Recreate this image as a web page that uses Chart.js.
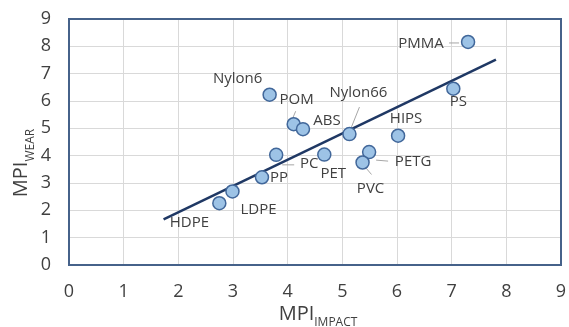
<!DOCTYPE html>
<html lang="en">
<head>
  <meta charset="UTF-8">
  <title>MPI wear vs impact</title>
  <style>
    body { margin: 0; background: #fff; }
    #wrap { width: 569px; height: 327px; }
  </style>
  <script src="https://cdn.jsdelivr.net/npm/chart.js"></script>
</head>
<body>
  <div id="wrap"><canvas id="mpiChart" width="569" height="327"></canvas></div>

  <script>
    // values
    const materials = ["HDPE", "LDPE", "PP", "PC", "PET", "Nylon6", "POM", "ABS", "Nylon66", "HIPS", "PETG", "PVC", "PMMA", "PS"];
    const impactMPI = [2.75, 2.99, 3.53, 3.79, 4.67, 3.67, 4.11, 4.28, 5.13, 6.02, 5.49, 5.37, 7.30, 7.03];
    const wearMPI   = [2.26, 2.69, 3.21, 4.03, 4.04, 6.23, 5.15, 4.97, 4.79, 4.73, 4.13, 3.75, 8.16, 6.45];
    const trendX = [1.73, 7.81];
    const trendY = [1.67, 7.51];
    const axisTicks = [0, 1, 2, 3, 4, 5, 6, 7, 8, 9];

    // label placement (pixels from the point) and leader lines
    const labelOffsets = {
      HDPE: [-30, 20], LDPE: [26, 18], PP: [17, 0], PC: [33, 9], PET: [9, 19],
      Nylon6: [-32, -16], POM: [3, -24], ABS: [24, -8], Nylon66: [9, -41],
      HIPS: [8, -17], PETG: [44, 10], PVC: [8, 26], PMMA: [-47, 2], PS: [5, 13]
    };
    const leaders = {
      PC: [6, 10, 18, 10], POM: [-1, -6, 2, -13], Nylon66: [0, -2, 10, -27],
      PETG: [7, 8, 19, 9], PVC: [3, 5, 9, 12], PMMA: [-19, 1, -9, 1]
    };

    const points = materials.map((m, i) => ({ x: impactMPI[i], y: wearMPI[i] }));
    const trend = trendX.map((x, i) => ({ x: x, y: trendY[i] }));

    function noPad(s) {
      s.paddingLeft = 0; s.paddingRight = 0; s.paddingTop = 0; s.paddingBottom = 0;
    }

    const labelPlugin = {
      id: 'labels',
      beforeDatasetsDraw(chart) {
        const ctx = chart.ctx;
        const a = chart.chartArea;
        ctx.save();
        ctx.strokeStyle = '#46628a';
        ctx.lineWidth = 2;
        ctx.strokeRect(a.left, a.top, a.right - a.left, a.bottom - a.top);
        const xs = chart.scales.x, ys = chart.scales.y;
        ctx.strokeStyle = '#a6a6a6';
        ctx.lineWidth = 1;
        materials.forEach((m, i) => {
          const l = leaders[m];
          if (!l) return;
          const px = xs.getPixelForValue(impactMPI[i]);
          const py = ys.getPixelForValue(wearMPI[i]);
          ctx.beginPath();
          ctx.moveTo(px + l[0], py + l[1]);
          ctx.lineTo(px + l[2], py + l[3]);
          ctx.stroke();
        });
        ctx.restore();
      },
      afterDatasetsDraw(chart) {
        const ctx = chart.ctx;
        const xs = chart.scales.x, ys = chart.scales.y;
        ctx.save();
        ctx.font = '15px "Open Sans"';
        ctx.fillStyle = '#404040';
        ctx.textAlign = 'center';
        ctx.textBaseline = 'middle';
        materials.forEach((m, i) => {
          const o = labelOffsets[m];
          const px = xs.getPixelForValue(impactMPI[i]);
          const py = ys.getPixelForValue(wearMPI[i]);
          ctx.fillText(m, px + o[0], py + o[1]);
        });
        ctx.restore();
      },
      afterDraw(chart) {
        // axis titles with subscripts
        const ctx = chart.ctx;
        const a = chart.chartArea;
        ctx.save();
        ctx.fillStyle = '#404040';
        ctx.textBaseline = 'alphabetic';
        ctx.textAlign = 'left';
        const big = '20px "Open Sans"', small = '12px "Open Sans"';
        ctx.font = big;
        const wx = ctx.measureText('MPI').width;
        ctx.font = small;
        const sx = ctx.measureText('IMPACT').width;
        let x0 = (a.left + a.right) / 2 - (wx + sx) / 2 + 3;
        ctx.font = big;
        ctx.fillText('MPI', x0, 320);
        ctx.font = small;
        ctx.fillText('IMPACT', x0 + wx, 326);

        ctx.translate(27, (a.top + a.bottom) / 2 + 21);
        ctx.rotate(-Math.PI / 2);
        ctx.font = small;
        const sy = ctx.measureText('WEAR').width;
        ctx.font = big;
        const y0 = -(wx + sy) / 2;
        ctx.fillText('MPI', y0, 0);
        ctx.font = small;
        ctx.fillText('WEAR', y0 + wx, 7);
        ctx.restore();
      }
    };

    new Chart(document.getElementById('mpiChart'), {
      type: 'scatter',
      data: {
        datasets: [
          {
            label: 'Trend',
            type: 'line',
            data: trend,
            showLine: true,
            borderColor: '#1f3864',
            borderWidth: 2.5,
            pointRadius: 0,
            fill: false,
            order: 2
          },
          {
            label: 'Materials',
            data: points,
            pointRadius: 6.5,
            pointHoverRadius: 6.5,
            backgroundColor: '#9dc3e6',
            borderColor: '#41679a',
            borderWidth: 1.5,
            order: 1
          }
        ]
      },
      options: {
        responsive: false,
        animation: false,
        layout: { padding: { left: 0, right: 5, top: 19, bottom: 0 } },
        plugins: { legend: { display: false }, tooltip: { enabled: false } },
        scales: {
          x: {
            type: 'linear',
            min: 0, max: 9,
            afterBuildTicks: s => { s.ticks = axisTicks.map(v => ({ value: v })); },
            afterFit: s => { s.height = 62; noPad(s); },
            grid: { color: '#d9d9d9', drawTicks: false },
            border: { display: false },
            ticks: { color: '#404040', font: { size: 18, family: '"Open Sans"' }, padding: 16 }
          },
          y: {
            type: 'linear',
            min: 0, max: 9,
            afterBuildTicks: s => { s.ticks = axisTicks.map(v => ({ value: v })); },
            afterFit: s => { s.width = 69; noPad(s); },
            grid: { color: '#d9d9d9', drawTicks: false },
            border: { display: false },
            ticks: { color: '#404040', font: { size: 18, family: '"Open Sans"' }, padding: 18 }
          }
        }
      },
      plugins: [labelPlugin]
    });
  </script>
</body>
</html>
